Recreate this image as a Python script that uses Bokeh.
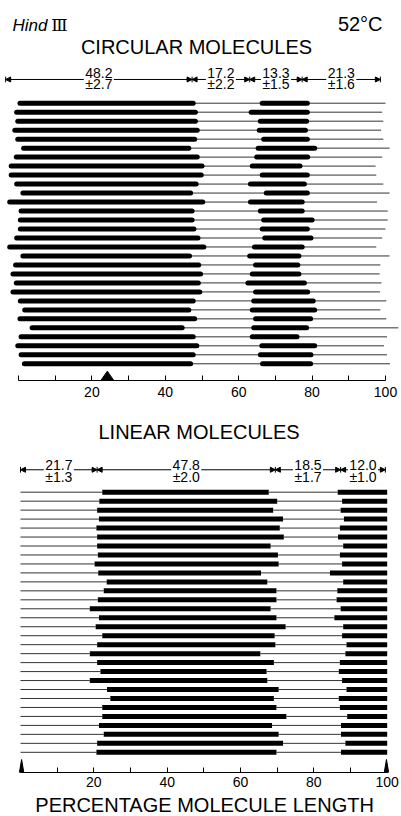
import numpy as np
from bokeh.plotting import figure
from bokeh.models import Range1d, ColumnDataSource, FixedTicker, Label, Arrow, NormalHead
from bokeh.layouts import column
from bokeh.embed import file_html
from bokeh.resources import INLINE
from bokeh.core.properties import value

# ---------------- data (percentage of molecule length) ----------------
# circular molecules: thick (denatured) segment 1, thin, thick segment 2, thin tail
circ_start = [0.4, -0.5, -0.2, -1.0, -0.2, 1.4, -0.6, -2.0, -2.0, -0.5, 1.2, -2.4, 0.7, 0.5, 0.5,
              -0.5, -2.4, 1.2, -0.8, -1.5, -0.6, -1.5, 0.5, 1.7, 0.4, 3.7, 0.7, -0.2, 0.7, 1.6]
circ_end1 = [47.6, 48.2, 48.2, 48.7, 48.0, 46.4, 48.7, 50.0, 49.8, 48.4, 46.9, 50.2, 47.3, 47.3, 47.8,
             48.9, 50.5, 46.6, 49.1, 49.6, 49.0, 49.4, 47.6, 46.4, 48.0, 44.6, 47.6, 48.6, 47.6, 46.9]
circ_start2 = [66.4, 63.4, 65.9, 65.6, 66.8, 65.3, 64.9, 63.7, 66.4, 63.2, 67.5, 63.2, 65.9, 66.8, 66.4,
               67.1, 64.3, 63.0, 64.6, 63.7, 62.5, 64.6, 64.1, 63.7, 64.6, 64.1, 63.7, 66.3, 65.9, 66.5]
circ_end2 = [78.7, 78.7, 78.5, 78.2, 78.7, 80.7, 78.8, 76.7, 78.7, 77.9, 78.7, 77.3, 77.3, 80.0, 78.7,
             79.7, 77.3, 76.4, 76.1, 76.4, 77.9, 78.8, 80.3, 80.7, 79.6, 78.5, 75.9, 80.7, 79.7, 79.6]
circ_stop = [100.0, 99.1, 99.4, 98.8, 99.4, 101.1, 99.1, 97.3, 97.5, 99.4, 101.1, 97.7, 100.6, 100.6, 100.0,
             99.1, 97.5, 101.1, 98.6, 98.4, 98.9, 98.5, 100.2, 98.6, 100.2, 103.5, 100.4, 99.6, 100.4, 101.2]
circ_means = [48.2, 17.2, 13.3, 21.3]
circ_sds = [2.7, 2.2, 1.5, 1.6]
circ_dim_edges = [-3.5, 47.3, 63.0, 77.3, 98.6]
circ_marker = [24.2]

# linear molecules: thin 0..s1, thick s1..e1, thin e1..s2, thick s2..100
lin_start1 = [22.3, 21.5, 20.9, 21.4, 20.7, 20.9, 20.9, 21.1, 20.2, 21.2, 23.5, 22.7, 21.1, 18.9, 21.4,
              20.5, 22.3, 20.9, 18.9, 20.9, 21.8, 18.9, 23.6, 24.5, 22.3, 22.3, 21.4, 22.7, 20.9, 20.7]
lin_end1 = [67.7, 70.0, 68.9, 71.6, 70.7, 71.8, 68.2, 70.2, 70.4, 65.6, 67.3, 69.8, 69.8, 68.2, 69.8,
            72.3, 69.3, 69.5, 65.4, 69.1, 67.1, 67.3, 70.4, 69.1, 69.8, 72.5, 68.6, 70.4, 71.6, 69.8]
lin_start2 = [86.5, 87.7, 87.3, 88.2, 87.1, 86.6, 88.0, 87.1, 87.7, 84.4, 88.0, 86.4, 86.2, 87.3, 85.6,
              88.0, 87.7, 88.9, 88.6, 87.1, 86.8, 87.7, 88.9, 86.8, 87.1, 89.1, 87.4, 87.4, 88.6, 87.4]
lin_length = 100.0
lin_means = [21.7, 47.8, 18.5, 12.0]
lin_sds = [1.3, 2.0, 1.7, 1.0]
lin_dim_edges = [0.0, 20.9, 69.5, 87.3, 99.5]
lin_markers = [0.3, 99.8]

major_ticks = [20, 40, 60, 80, 100]
minor_ticks = [0, 10, 30, 50, 70, 90]

# ---------------- styling ----------------
FONT = "Liberation Sans"
W = 400
THICK = 5
THIN = 1.0
THIN_COLOR = "#333333"


def base_fig(h, xr, yr, bb, standoff):
    p = figure(width=W, height=h, x_range=xr, y_range=yr, output_backend="svg",
               toolbar_location=None, y_axis_location=None,
               min_border_left=0, min_border_right=0, min_border_top=0, min_border_bottom=bb)
    p.outline_line_color = None
    p.grid.visible = False
    p.background_fill_color = "white"
    p.border_fill_color = "white"
    ax = p.xaxis[0]
    ax.ticker = FixedTicker(ticks=major_ticks, minor_ticks=minor_ticks)
    ax.bounds = (0, 100)
    ax.axis_line_color = "black"
    ax.axis_line_width = 1
    ax.major_tick_in = 5
    ax.major_tick_out = 0
    ax.minor_tick_in = 5
    ax.minor_tick_out = 0
    ax.major_tick_line_color = "black"
    ax.minor_tick_line_color = "black"
    ax.major_label_text_font = FONT
    ax.major_label_text_font_size = "14px"
    ax.major_label_text_color = "black"
    ax.major_label_standoff = standoff
    return p


def dimension(p, edges, means, sds, y_line, y_num, y_sd, gap):
    e = np.array(edges, dtype=float)
    a, b = e[:-1], e[1:]
    c = (a + b) / 2
    n = len(c)
    src = ColumnDataSource(dict(xs=np.r_[c - gap, c + gap], xe=np.r_[a, b], y=[y_line] * (2 * n)))
    p.add_layout(Arrow(end=NormalHead(size=5, fill_color="black", line_color="black", line_width=1),
                       x_start="xs", y_start="y", x_end="xe", y_end="y", source=src,
                       line_color="black", line_width=1))
    p.segment(x0=e, y0=[y_line - 0.32] * len(e), x1=e, y1=[y_line + 0.32] * len(e),
              line_color="black", line_width=1)
    p.text(x=c, y=[y_num] * n, text=[f"{m:.1f}" for m in means], text_align="center",
           text_baseline="alphabetic", text_font=value(FONT), text_font_size="14px", text_color="black")
    p.text(x=c, y=[y_sd] * n, text=[f"±{s:.1f}" for s in sds], text_align="center",
           text_baseline="alphabetic", text_font=value(FONT), text_font_size="14px", text_color="black")


rows = list(range(1, 31))

# ---------------- circular ----------------
p1 = base_fig(412, Range1d(-4.905, 104.087), Range1d(31.859, -10.429), 32, 6)
thin_c = ColumnDataSource(dict(x0=circ_end1 + circ_end2, x1=circ_start2 + circ_stop, y=rows * 2))
thick_c = ColumnDataSource(dict(x0=circ_start + circ_start2, x1=circ_end1 + circ_end2, y=rows * 2))
p1.segment(x0="x0", y0="y", x1="x1", y1="y", source=thin_c, line_width=THIN, line_color=THIN_COLOR)
p1.segment(x0="x0", y0="y", x1="x1", y1="y", source=thick_c, line_width=THICK, line_color="black",
           line_cap="round")
hw_c, h_c = 1.77, 1.04
yb_c = 31.859
p1.patches(xs=[[m - hw_c, m, m + hw_c] for m in circ_marker],
           ys=[[yb_c, yb_c - h_c, yb_c] for m in circ_marker], fill_color="black", line_color="black")
dimension(p1, circ_dim_edges, circ_means, circ_sds, -1.64, -2.33, -1.10, 4.1)
p1.add_layout(Label(x=-1.63, y=-7.66, text="Hind", text_font=FONT, text_font_style="italic",
                    text_font_size="17px", text_baseline="alphabetic", text_color="black"))
p1.add_layout(Label(x=8.9, y=-7.66, text="Ⅲ", text_font="DejaVu Serif",
                    text_font_size="17px", text_baseline="alphabetic", text_color="black"))
p1.add_layout(Label(x=99.2, y=-7.76, text="52°C", text_font=FONT, text_align="right",
                    text_font_size="20px", text_baseline="alphabetic", text_color="black"))
p1.add_layout(Label(x=48.5, y=-5.20, text="CIRCULAR MOLECULES", text_font=FONT, text_align="center",
                    text_font_size="20px", text_baseline="alphabetic", text_color="black"))

# ---------------- linear ----------------
p2 = base_fig(380, Range1d(-5.454, 103.63), Range1d(32.252, -7.886), 20, 4)
thin_l = ColumnDataSource(dict(x0=[0.0] * 30 + lin_end1, x1=lin_start1 + lin_start2, y=rows * 2))
thick_l = ColumnDataSource(dict(x0=lin_start1 + lin_start2, x1=lin_end1 + [lin_length] * 30, y=rows * 2))
p2.segment(x0="x0", y0="y", x1="x1", y1="y", source=thin_l, line_width=THIN, line_color=THIN_COLOR)
p2.segment(x0="x0", y0="y", x1="x1", y1="y", source=thick_l, line_width=THICK, line_color="black",
           line_cap="butt")
hw_l, h_l = 0.6, 1.45
yb_l = 32.252
p2.patches(xs=[[m - hw_l, m, m + hw_l] for m in lin_markers],
           ys=[[yb_l, yb_l - h_l, yb_l] for m in lin_markers], fill_color="black", line_color="black")
dimension(p2, lin_dim_edges, lin_means, lin_sds, -1.50, -2.08, -0.70, 4.1)
p2.add_layout(Label(x=48.7, y=-5.66, text="LINEAR MOLECULES", text_font=FONT, text_align="center",
                    text_font_size="20px", text_baseline="alphabetic", text_color="black"))

# ---------------- x-axis title strip ----------------
p3 = figure(width=W, height=23, x_range=Range1d(-5.454, 103.63), y_range=Range1d(23, 0),
            output_backend="svg", toolbar_location=None, x_axis_location=None, y_axis_location=None,
            min_border_left=0, min_border_right=0, min_border_top=0, min_border_bottom=0)
p3.outline_line_color = None
p3.grid.visible = False
p3.add_layout(Label(x=50.2, y=12, text="PERCENTAGE MOLECULE LENGTH", text_font=FONT,
                    text_align="center", text_font_size="20px", text_baseline="alphabetic",
                    text_color="black"))

layout = column(p1, p2, p3)
open("out.html", "w").write(file_html(layout, INLINE))
